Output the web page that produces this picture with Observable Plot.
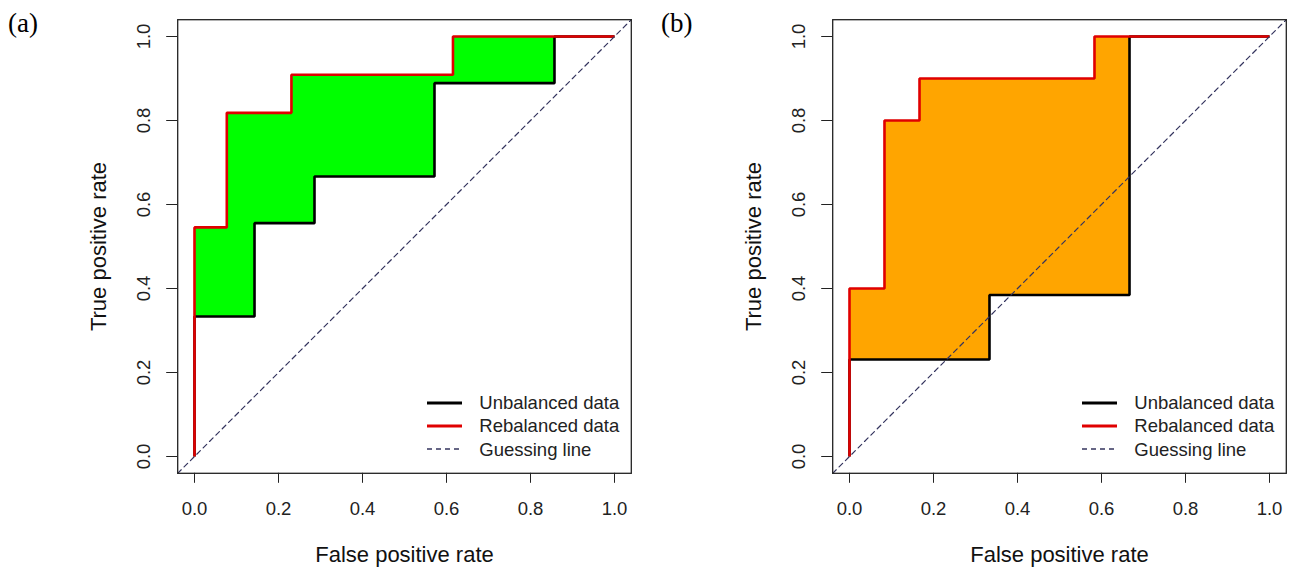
<!DOCTYPE html>
<html>
<head>
<meta charset="utf-8">
<script src="https://cdn.jsdelivr.net/npm/d3@7"></script>
<script src="https://cdn.jsdelivr.net/npm/@observablehq/plot@0.6"></script>
<style>
  html, body { margin: 0; padding: 0; background: #fff; }
  #wrap { position: relative; width: 1290px; height: 567px; overflow: hidden; background: #fff;
          font-family: "Liberation Sans", Arial, sans-serif; }
  .panel { position: absolute; top: 0; width: 635px; height: 567px; }
  .panel svg { display: block; }
  .tag { position: absolute; top: 8px; font-family: "Liberation Serif", "Times New Roman", serif;
         font-size: 27px; line-height: 30px; color: #000; }
  .legend { position: absolute; font-size: 18.5px; color: #222; }
  .legend .row { display: flex; align-items: center; height: 23.3px; line-height: 23.3px; white-space: nowrap; }
  .legend .row svg { width: 35px; height: 6px; margin-right: 17.6px; display: block; }
</style>
</head>
<body>
<div id="wrap"></div>
<script>
// ---------- data ----------
const xTicks = [0, 0.2, 0.4, 0.6, 0.8, 1.0];
const yTicks = [0, 0.2, 0.4, 0.6, 0.8, 1.0];

// Panel (a)
const rebalA_fpr = [0, 0, 0.0769, 0.0769, 0.2308, 0.2308, 0.6154, 0.6154, 1];
const rebalA_tpr = [0, 0.5455, 0.5455, 0.8182, 0.8182, 0.9091, 0.9091, 1, 1];
const unbalA_fpr = [0, 0, 0.1429, 0.1429, 0.2857, 0.2857, 0.5714, 0.5714, 0.8571, 0.8571, 1];
const unbalA_tpr = [0, 0.3333, 0.3333, 0.5556, 0.5556, 0.6667, 0.6667, 0.8889, 0.8889, 1, 1];

// Panel (b)
const rebalB_fpr = [0, 0, 0.0833, 0.0833, 0.1667, 0.1667, 0.5833, 0.5833, 1];
const rebalB_tpr = [0, 0.4, 0.4, 0.8, 0.8, 0.9, 0.9, 1, 1];
const unbalB_fpr = [0, 0, 0.3333, 0.3333, 0.6667, 0.6667, 1];
const unbalB_tpr = [0, 0.2308, 0.2308, 0.3846, 0.3846, 1, 1];

const panelTags = ["(a)", "(b)"];
const fillColors = ["#00ff00", "#ffa500"];
const legendLabels = ["Unbalanced data", "Rebalanced data", "Guessing line"];
const xTitle = "False positive rate";
const yTitle = "True positive rate";

// ---------- styling ----------
const RED = "#e00000", BLACK = "#000000", GUESS = "#34345e";
const legendStyles = [
  {stroke: BLACK, width: 3, dash: null},
  {stroke: RED, width: 3, dash: null},
  {stroke: GUESS, width: 1.3, dash: "5,4"}
];
const domain = [-0.04, 1.04];
const W = 635, H = 567;
const fmt = d3.format(".1f");

function pts(xs, ys) { return xs.map((x, i) => ({x, y: ys[i]})); }

function rocPanel(redX, redY, blkX, blkY, fillColor) {
  const red = pts(redX, redY);
  const black = pts(blkX, blkY);
  const poly = red.concat(black.slice().reverse());
  const guess = [{x: domain[0], y: domain[0]}, {x: domain[1], y: domain[1]}];
  return Plot.plot({
    width: W, height: H,
    marginLeft: 177.2, marginRight: W - 630.8, marginTop: 19.2, marginBottom: H - 472.8,
    x: {domain, ticks: xTicks},
    y: {domain, ticks: yTicks},
    style: {fontFamily: '"Liberation Sans", Arial, sans-serif', background: "transparent", color: "#222", overflow: "visible"},
    marks: [
      Plot.line(poly, {x: "x", y: "y", fill: fillColor, stroke: "none", curve: "linear"}),
      Plot.line(black, {x: "x", y: "y", stroke: BLACK, strokeWidth: 2.6, strokeLinejoin: "miter", strokeLinecap: "butt"}),
      Plot.line(red, {x: "x", y: "y", stroke: RED, strokeWidth: 2.6, strokeLinejoin: "miter", strokeLinecap: "butt"}),
      Plot.line(guess, {x: "x", y: "y", stroke: GUESS, strokeWidth: 1.2, strokeDasharray: "5,4"}),
      Plot.frame({stroke: "#222", strokeWidth: 1.3}),
      Plot.axisX({ticks: xTicks, tickSize: 10, tickPadding: 19, tickFormat: fmt, fontSize: 18.5, label: null, stroke: "#222", fill: "#222"}),
      Plot.axisY({ticks: yTicks, tickSize: 11, tickFormat: () => "", label: null, stroke: "#222"}),
      Plot.text(yTicks, {y: d => d, text: d => fmt(d), frameAnchor: "left", dx: -33.8, rotate: -90,
                         fontSize: 18.5, fill: "#222", textAnchor: "middle", lineAnchor: "middle"}),
      Plot.text([yTitle], {text: d => d, frameAnchor: "left", dx: -79.2, rotate: -90,
                           fontSize: 22, fill: "#111", textAnchor: "middle", lineAnchor: "middle"}),
      Plot.text([xTitle], {text: d => d, frameAnchor: "bottom", dy: 81.9,
                           fontSize: 22, fill: "#111", textAnchor: "middle", lineAnchor: "middle"})
    ]
  });
}

function legend(left, top) {
  const div = document.createElement("div");
  div.className = "legend";
  div.style.left = left + "px";
  div.style.top = top + "px";
  legendLabels.forEach((lab, i) => {
    const s = legendStyles[i];
    const row = document.createElement("div");
    row.className = "row";
    row.innerHTML = `<svg viewBox="0 0 35 6"><line x1="0" y1="3" x2="35" y2="3" stroke="${s.stroke}" stroke-width="${s.width}" ${s.dash ? `stroke-dasharray="${s.dash}"` : ""}/></svg><span>${lab}</span>`;
    div.appendChild(row);
  });
  return div;
}

const wrap = document.getElementById("wrap");
const panels = [
  {left: 0, chart: rocPanel(rebalA_fpr, rebalA_tpr, unbalA_fpr, unbalA_tpr, fillColors[0])},
  {left: 655, chart: rocPanel(rebalB_fpr, rebalB_tpr, unbalB_fpr, unbalB_tpr, fillColors[1])}
];
panels.forEach((p, i) => {
  const div = document.createElement("div");
  div.className = "panel";
  div.style.left = p.left + "px";
  div.appendChild(p.chart);
  const tag = document.createElement("div");
  tag.className = "tag";
  tag.style.left = (i === 0 ? 8 : 6) + "px";
  tag.textContent = panelTags[i];
  div.appendChild(tag);
  div.appendChild(legend(426.7, 391));
  wrap.appendChild(div);
});
</script>
</body>
</html>
